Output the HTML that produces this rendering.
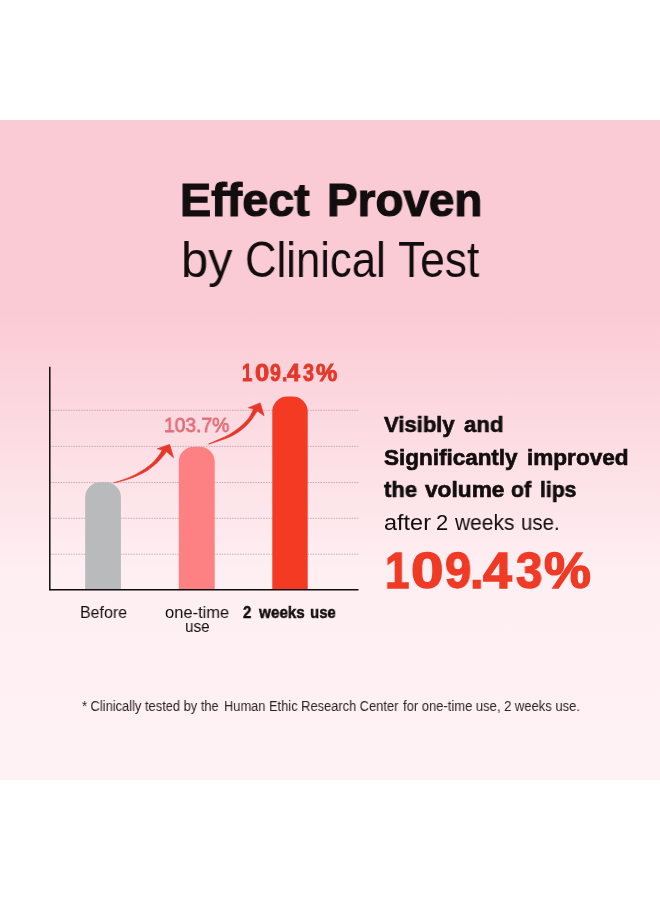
<!DOCTYPE html>
<html>
<head>
<meta charset="utf-8">
<style>
html,body{margin:0;padding:0;background:#fff;}
body{width:660px;height:900px;position:relative;overflow:hidden;font-family:"Liberation Sans",sans-serif;}
#panel{position:absolute;left:0;top:120px;width:660px;height:660px;
  background:linear-gradient(to bottom,#fbcbd5 0px,#fbcbd5 195px,#feeff2 450px,#fff2f4 660px);}
.t{position:absolute;will-change:transform;white-space:nowrap;line-height:1;transform-origin:0 0;color:#111;}
.b{font-weight:bold;}
svg{position:absolute;left:0;top:0;}
</style>
</head>
<body>
<div id="panel"></div>
<svg width="660" height="900" viewBox="0 0 660 900">
  <!-- grid -->
  <g stroke="#b5a4a8" stroke-width="0.8" stroke-dasharray="1.6 1">
    <line x1="50" y1="410.3" x2="359" y2="410.3"/>
    <line x1="50" y1="446.4" x2="359" y2="446.4"/>
    <line x1="50" y1="482.5" x2="359" y2="482.5"/>
    <line x1="50" y1="518.3" x2="359" y2="518.3"/>
    <line x1="50" y1="554.2" x2="359" y2="554.2"/>
  </g>
  <!-- bars -->
  <path d="M85.2 590 V497.3 a15 15 0 0 1 15 -15 h5.7 a15 15 0 0 1 15 15 V590 Z" fill="#b9babb"/>
  <path d="M178.8 590 V461.8 a15 15 0 0 1 15 -15 h5.9 a15 15 0 0 1 15 15 V590 Z" fill="#fd8182"/>
  <path d="M272.3 590 V411.6 a15 15 0 0 1 15 -15 h5.4 a15 15 0 0 1 15 15 V590 Z" fill="#f43a23"/>
  <!-- arrows -->
  <g fill="#e5382a" stroke="#e5382a" stroke-width="0.7">
    <path d="M113.8 482.9 C116.0 482.1 123.0 479.9 126.8 478.4 C130.6 476.9 133.5 475.5 136.6 473.9 C139.7 472.2 142.7 470.5 145.5 468.5 C148.3 466.5 151.3 464.2 153.4 462.1 C155.5 460.1 157.0 457.9 158.3 456.2 C159.6 454.5 160.7 452.9 161.3 451.8 C161.9 450.7 161.7 450.1 161.8 449.8 L157.3 448.8 L169.6 444.4 L173.6 457.7 L166.4 451.6 C166.3 451.8 166.5 451.7 165.7 452.8 C164.8 453.9 163.2 456.1 161.3 458.2 C159.4 460.2 156.9 463.0 154.4 465.1 C151.9 467.2 149.5 469.2 146.5 471.0 C143.5 472.8 139.9 474.5 136.6 475.9 C133.3 477.3 130.6 478.4 126.8 479.6 C123.0 480.8 116.0 482.3 113.8 482.9 Z"/>
    <path d="M208.6 444.1 C210.5 443.3 216.3 440.7 219.8 439.1 C223.3 437.5 226.7 436.1 229.6 434.4 C232.5 432.7 235.0 430.9 237.5 429.0 C240.0 427.1 242.4 425.1 244.4 423.1 C246.4 421.1 248.0 419.1 249.3 417.2 C250.6 415.3 251.6 413.1 252.3 411.7 C253.0 410.3 253.1 409.3 253.3 408.8 L248.3 407.8 L260.2 402.9 L264.1 415.7 L257.4 411.0 C257.2 411.3 257.0 411.4 256.2 412.7 C255.3 414.0 253.9 416.5 252.3 418.6 C250.7 420.7 248.7 423.3 246.4 425.5 C244.1 427.7 241.3 430.0 238.5 431.9 C235.7 433.8 232.7 435.5 229.6 436.9 C226.5 438.3 223.3 439.3 219.8 440.5 C216.3 441.7 210.5 443.5 208.6 444.1 Z"/>
  </g>
  <!-- axes -->
  <line x1="49.8" y1="366.8" x2="49.8" y2="590.3" stroke="#0f0b0c" stroke-width="1.5"/>
  <line x1="49.2" y1="589.8" x2="358.5" y2="589.8" stroke="#0f0b0c" stroke-width="1.5"/>
</svg>
<div class="t b" id="h1a" style="left:179.71px;top:177.00px;font-size:46.8px;color:#120d0e;transform:scaleX(0.9966);-webkit-text-stroke:1.2px #120d0e;">Effect</div>
<div class="t b" id="h1b" style="left:327.16px;top:177.00px;font-size:46.8px;color:#120d0e;transform:scaleX(0.9793);-webkit-text-stroke:1.2px #120d0e;">Proven</div>
<div class="t" id="h2a" style="left:180.84px;top:235.00px;font-size:49.5px;color:#120d0e;transform:scaleX(0.9853);">by</div>
<div class="t" id="h2b" style="left:244.83px;top:235.00px;font-size:49.5px;color:#120d0e;transform:scaleX(0.8826);">Clinical</div>
<div class="t" id="h2c" style="left:398.30px;top:235.00px;font-size:49.5px;color:#120d0e;transform:scaleX(0.8953);">Test</div>
<div class="t" id="v1" style="left:164.15px;top:415.00px;font-size:20.3px;color:#df6f79;transform:scaleX(0.9490);-webkit-text-stroke:0.8px #df6f79;">103.7%</div>
<div class="t" id="l1" style="left:79.64px;top:605.00px;font-size:16.6px;color:#120d0e;transform:scaleX(0.9609);">Before</div>
<div class="t" id="l2" style="left:164.80px;top:605.00px;font-size:16.6px;color:#120d0e;transform:scaleX(0.9933);">one-time</div>
<div class="t" id="l2b" style="left:184.68px;top:619.00px;font-size:16.6px;color:#120d0e;transform:scaleX(0.9206);">use</div>
<div class="t b" id="l3a" style="left:243.22px;top:605.00px;font-size:16.6px;color:#120d0e;transform:scaleX(0.9056);-webkit-text-stroke:0.45px #120d0e;">2</div>
<div class="t b" id="l3b" style="left:258.65px;top:605.00px;font-size:16.6px;color:#120d0e;transform:scaleX(0.9201);-webkit-text-stroke:0.45px #120d0e;">weeks</div>
<div class="t b" id="l3c" style="left:310.22px;top:605.00px;font-size:16.6px;color:#120d0e;transform:scaleX(0.9044);-webkit-text-stroke:0.45px #120d0e;">use</div>
<div class="t b" id="r1a" style="left:383.82px;top:414.00px;font-size:22.4px;color:#120d0e;transform:scaleX(0.9838);-webkit-text-stroke:0.65px #120d0e;">Visibly</div>
<div class="t b" id="r1b" style="left:464.22px;top:414.00px;font-size:22.4px;color:#120d0e;transform:scaleX(0.9877);-webkit-text-stroke:0.65px #120d0e;">and</div>
<div class="t b" id="r2a" style="left:384.22px;top:447.00px;font-size:22.4px;color:#120d0e;transform:scaleX(1.0036);-webkit-text-stroke:0.65px #120d0e;">Significantly</div>
<div class="t b" id="r2b" style="left:526.62px;top:447.00px;font-size:22.4px;color:#120d0e;transform:scaleX(1.0075);-webkit-text-stroke:0.65px #120d0e;">improved</div>
<div class="t b" id="r3a" style="left:383.93px;top:479.00px;font-size:22.4px;color:#120d0e;transform:scaleX(0.9824);-webkit-text-stroke:0.65px #120d0e;">the</div>
<div class="t b" id="r3b" style="left:425.02px;top:479.00px;font-size:22.4px;color:#120d0e;transform:scaleX(1.0130);-webkit-text-stroke:0.65px #120d0e;">volume</div>
<div class="t b" id="r3c" style="left:511.43px;top:479.00px;font-size:22.4px;color:#120d0e;transform:scaleX(0.9480);-webkit-text-stroke:0.65px #120d0e;">of</div>
<div class="t b" id="r3d" style="left:539.58px;top:479.00px;font-size:22.4px;color:#120d0e;transform:scaleX(0.9443);-webkit-text-stroke:0.65px #120d0e;">lips</div>
<div class="t" id="r4a" style="left:383.70px;top:513.00px;font-size:21.5px;color:#120d0e;transform:scaleX(1.0919);">after</div>
<div class="t" id="r4b" style="left:436.28px;top:513.00px;font-size:21.5px;color:#120d0e;transform:scaleX(1.0200);">2</div>
<div class="t" id="r4c" style="left:454.97px;top:513.00px;font-size:21.5px;color:#120d0e;transform:scaleX(0.9740);">weeks</div>
<div class="t" id="r4d" style="left:520.85px;top:513.00px;font-size:21.5px;color:#120d0e;transform:scaleX(0.9492);">use.</div>
<div class="t" id="fna" style="left:81.80px;top:699.00px;font-size:14px;color:#2a2425;transform:scaleX(0.9198);">* Clinically tested by the</div>
<div class="t" id="fnb" style="left:223.58px;top:699.00px;font-size:14px;color:#2a2425;transform:scaleX(0.9181);">Human Ethic Research Center</div>
<div class="t" id="fnc" style="left:402.70px;top:699.00px;font-size:14px;color:#2a2425;transform:scaleX(0.9280);">for one-time use, 2 weeks use.</div>
<div class="t b" id="r50" style="left:384.77px;top:546.00px;font-size:50.3px;color:#ef3a26;transform:scaleX(0.8750);-webkit-text-stroke:1.4px #ef3a26;">1</div>
<div class="t b" id="r51" style="left:410.84px;top:546.00px;font-size:50.3px;color:#ef3a26;transform:scaleX(1.1640);-webkit-text-stroke:1.4px #ef3a26;">0</div>
<div class="t b" id="r52" style="left:445.26px;top:546.00px;font-size:50.3px;color:#ef3a26;transform:scaleX(0.9385);-webkit-text-stroke:1.4px #ef3a26;">9</div>
<div class="t b" id="r53" style="left:469.57px;top:546.00px;font-size:50.3px;color:#ef3a26;transform:scaleX(0.9750);-webkit-text-stroke:1.4px #ef3a26;">.</div>
<div class="t b" id="r54" style="left:482.90px;top:546.00px;font-size:50.3px;color:#ef3a26;transform:scaleX(1.0321);-webkit-text-stroke:1.4px #ef3a26;">4</div>
<div class="t b" id="r55" style="left:516.45px;top:546.00px;font-size:50.3px;color:#ef3a26;transform:scaleX(0.9462);-webkit-text-stroke:1.4px #ef3a26;">3</div>
<div class="t b" id="r56" style="left:543.85px;top:546.00px;font-size:50.3px;color:#ef3a26;transform:scaleX(1.0488);-webkit-text-stroke:1.4px #ef3a26;">%</div>
<div class="t b" id="v20" style="left:242.46px;top:362.00px;font-size:23.2px;color:#e3392b;transform:scaleX(0.7888);-webkit-text-stroke:0.9px #e3392b;">1</div>
<div class="t b" id="v21" style="left:254.63px;top:362.00px;font-size:23.2px;color:#e3392b;transform:scaleX(1.1011);-webkit-text-stroke:0.9px #e3392b;">0</div>
<div class="t b" id="v22" style="left:270.46px;top:362.00px;font-size:23.2px;color:#e3392b;transform:scaleX(0.8491);-webkit-text-stroke:0.9px #e3392b;">9</div>
<div class="t b" id="v23" style="left:281.79px;top:362.00px;font-size:23.2px;color:#e3392b;transform:scaleX(0.8393);-webkit-text-stroke:0.9px #e3392b;">.</div>
<div class="t b" id="v24" style="left:287.44px;top:362.00px;font-size:23.2px;color:#e3392b;transform:scaleX(1.0093);-webkit-text-stroke:0.9px #e3392b;">4</div>
<div class="t b" id="v25" style="left:303.41px;top:362.00px;font-size:23.2px;color:#e3392b;transform:scaleX(0.8563);-webkit-text-stroke:0.9px #e3392b;">3</div>
<div class="t b" id="v26" style="left:316.13px;top:362.00px;font-size:23.2px;color:#e3392b;transform:scaleX(1.0309);-webkit-text-stroke:0.9px #e3392b;">%</div>
</body>
</html>
